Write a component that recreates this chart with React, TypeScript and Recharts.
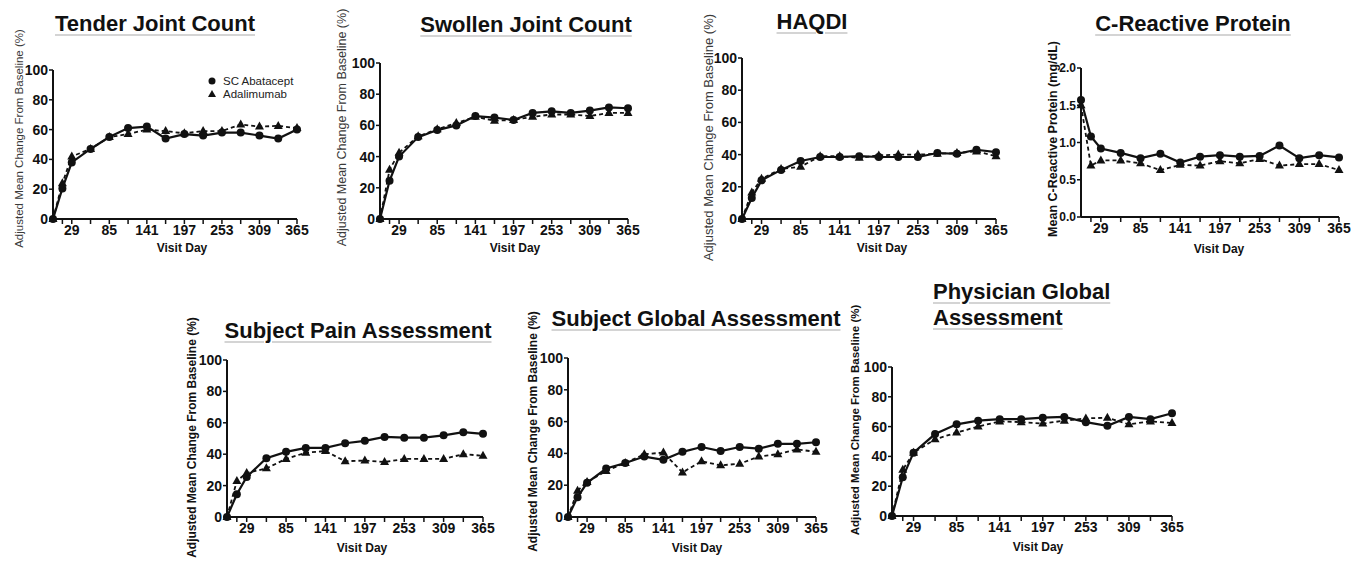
import { LineChart, Line, XAxis, YAxis, Legend } from "recharts";

const FONT = '"Liberation Sans", Arial, sans-serif';
const INK = "#111";

// visit days of the 15 assessments
const DAYS = [1, 15, 29, 57, 85, 113, 141, 169, 197, 225, 253, 281, 309, 337, 365];
const X_TICKS = [15, 29, 57, 85, 113, 141, 169, 197, 225, 253, 281, 309, 337, 365];
const X_LABELED = [29, 85, 141, 197, 253, 309, 365];
const PCT_TICKS = [0, 20, 40, 60, 80, 100];
const CRP_TICKS = [0, 0.5, 1, 1.5, 2];
const SERIES_NAMES = ["SC Abatacept", "Adalimumab"];

const TENDER_SC = [0, 20.5, 38, 47, 55, 61, 62, 54, 57, 56, 58, 58, 56, 54, 60];
const TENDER_ADA = [0, 24, 42, 47, 55, 57, 60, 59, 57.5, 59, 59, 63.5, 62, 62.5, 61];

const SWOLLEN_SC = [0, 24.5, 40, 52.5, 57, 60, 66, 65, 63.5, 68, 69, 68, 69.5, 71.5, 71];
const SWOLLEN_ADA = [0, 31.5, 42.5, 53, 57.5, 61.5, 65.5, 63, 63.5, 65.5, 67, 67, 66, 68, 68];

const HAQ_SC = [0, 13, 24, 30.5, 36, 38.5, 38.5, 39, 38.5, 38.5, 38.5, 41, 40.5, 43, 41.5];
const HAQ_ADA = [0, 16.5, 25, 31, 32.5, 39, 39, 38, 39.5, 40, 40, 40.5, 41, 42, 39];

const CRP_SC = [1.57, 1.08, 0.92, 0.86, 0.79, 0.85, 0.73, 0.81, 0.83, 0.81, 0.82, 0.96, 0.79, 0.83, 0.8];
const CRP_ADA = [1.5, 0.69, 0.76, 0.76, 0.72, 0.63, 0.7, 0.69, 0.75, 0.72, 0.78, 0.69, 0.71, 0.71, 0.63];

const PAIN_SC = [0, 14.5, 25.5, 37.5, 41.5, 44, 44, 47, 48.5, 51, 50.5, 50.5, 52, 54, 53];
const PAIN_ADA = [0, 23, 28, 31, 37, 41, 42, 35.5, 36, 35, 37, 37, 37, 40, 39];

const SGA_SC = [0, 12.5, 21.5, 30.5, 34, 38, 36, 41, 44, 41.5, 44, 43, 46, 46, 47];
const SGA_ADA = [0, 16.5, 22, 29, 34, 39.5, 40.5, 28, 35, 32.5, 33.5, 38, 39.5, 42.5, 41];

const PGA_SC = [0, 26, 42.5, 55, 61.5, 64, 65, 65, 66, 66.5, 63, 60.5, 66.5, 65, 69];
const PGA_ADA = [0, 31, 42.5, 51.5, 56, 60, 63.5, 63, 62, 64, 65.5, 66, 61.5, 63.5, 62.5];

const PCT_LABEL = "Adjusted Mean Change From Baseline (%)";

type Layout = {
  plotLeft: number;
  plotRight: number;
  plotTop: number;
  plotBottom: number;
  labelX: number;
  labelY: number;
  labelSize: number;
  labelWeight: string;
  visitX: number;
  visitY: number;
  titleX: number;
  titleY: number;
  titleAlign: "center" | "left";
  yTickSize?: number;
};

const renderTriangle = (props: any) => {
  const { cx, cy, index } = props;
  if (cx == null || cy == null) return <g key={`t-${index}`} />;
  return (
    <path
      key={`t-${index}`}
      d={`M${cx},${cy - 5} L${cx + 4.5},${cy + 3} L${cx - 4.5},${cy + 3} Z`}
      fill={INK}
    />
  );
};

const renderLegend = (props: any) => {
  const payload = props.payload ?? [];
  const items = SERIES_NAMES.map((n) => payload.find((p: any) => p.value === n)).filter(Boolean);
  return (
    <div style={{ fontFamily: FONT, fontSize: 11.5, color: "#222" }}>
      {items.map((it: any) => (
        <div key={it.value} style={{ display: "flex", alignItems: "center", height: 13 }}>
          <svg width={10} height={10}>
            {it.type === "circle" ? (
              <circle cx={5} cy={5} r={3.5} fill={INK} />
            ) : (
              <path d="M5,1 L9,8 L1,8 Z" fill={INK} />
            )}
          </svg>
          <span style={{ marginLeft: 6 }}>{it.value}</span>
        </div>
      ))}
    </div>
  );
};

// room above the plot so the rotated axis title is not clipped
const TOP_ROOM = 72;

function Panel({
  title,
  sc,
  ada,
  yMax,
  yTicks,
  yLabel,
  fmt,
  lay,
  legend,
}: {
  title: string[];
  sc: number[];
  ada: number[];
  yMax: number;
  yTicks: number[];
  yLabel: string;
  fmt: (v: number) => string;
  lay: Layout;
  legend?: boolean;
}) {
  const left = lay.labelX - 12;
  const top = lay.plotTop - TOP_ROOM;
  const width = lay.plotRight + 14 - left;
  const height = lay.plotBottom + 52 - top;
  const data = DAYS.map((d, i) => ({ day: d, sc: sc[i], ada: ada[i] }));

  const titleStyle: React.CSSProperties = {
    position: "absolute",
    top: lay.titleY - 13,
    fontFamily: FONT,
    fontWeight: "bold",
    fontSize: 22,
    lineHeight: "26px",
    color: INK,
    whiteSpace: "nowrap",
    textDecoration: "underline",
    textDecorationColor: "#d4d4d4",
    textUnderlineOffset: 3,
    ...(lay.titleAlign === "center"
      ? { left: lay.titleX - 200, width: 400, textAlign: "center" }
      : { left: lay.titleX }),
  };

  return (
    <>
      <div style={titleStyle}>
        {title.map((t) => (
          <div key={t}>{t}</div>
        ))}
      </div>
      <div style={{ position: "absolute", left, top }}>
        <LineChart
          width={width}
          height={height}
          data={data}
          margin={{ top: TOP_ROOM, right: 14, left: 0, bottom: 0 }}
        >
          <XAxis
            type="number"
            dataKey="day"
            domain={[1, 365]}
            ticks={X_TICKS}
            interval={0}
            tickFormatter={(v) => (X_LABELED.includes(v) ? String(v) : "")}
            height={52}
            axisLine={{ stroke: INK, strokeWidth: 2 }}
            tickLine={{ stroke: INK, strokeWidth: 1.5 }}
            tickSize={5}
            tickMargin={1}
            tick={{ fontSize: 14, fontWeight: "bold", fill: INK, fontFamily: FONT }}
            label={() => (
              <text
                x={lay.visitX - left}
                y={lay.visitY - top}
                textAnchor="middle"
                dominantBaseline="central"
                fontFamily={FONT}
                fontSize={12}
                fontWeight="bold"
                fill={INK}
              >
                Visit Day
              </text>
            )}
          />
          <YAxis
            type="number"
            domain={[0, yMax]}
            ticks={yTicks}
            interval={0}
            tickFormatter={fmt}
            width={lay.plotLeft - left}
            axisLine={{ stroke: INK, strokeWidth: 2 }}
            tickLine={{ stroke: INK, strokeWidth: 1.5 }}
            tickSize={4}
            tickMargin={1}
            tick={{ fontSize: lay.yTickSize ?? 14, fontWeight: "bold", fill: INK, fontFamily: FONT }}
            label={() => {
              const x = lay.labelX - left;
              const y = lay.labelY - top;
              return (
                <text
                  x={x}
                  y={y}
                  transform={`rotate(-90 ${x} ${y})`}
                  textAnchor="middle"
                  dominantBaseline="central"
                  fontFamily={FONT}
                  fontSize={lay.labelSize}
                  fontWeight={lay.labelWeight}
                  fill={lay.labelWeight === "bold" ? INK : "#3a3a3a"}
                >
                  {yLabel}
                </text>
              );
            }}
          />
          {legend && (
            <Legend
              layout="vertical"
              align="center"
              verticalAlign="middle"
              wrapperStyle={{ left: 207 - left, top: 74.5 - top, width: 100 }}
              content={renderLegend}
            />
          )}
          <Line
            dataKey="ada"
            name="Adalimumab"
            stroke={INK}
            strokeWidth={1.8}
            strokeDasharray="4 3"
            dot={renderTriangle}
            legendType="triangle"
            isAnimationActive={false}
          />
          <Line
            dataKey="sc"
            name="SC Abatacept"
            stroke={INK}
            strokeWidth={2.2}
            dot={{ r: 4, fill: INK, stroke: INK, strokeWidth: 0 }}
            legendType="circle"
            isAnimationActive={false}
          />
        </LineChart>
      </div>
    </>
  );
}

const pct = (v: number) => String(v);
const crp = (v: number) => v.toFixed(1);

export default function App() {
  return (
    <div
      style={{
        position: "absolute",
        left: 0,
        top: 0,
        width: 1359,
        height: 571,
        background: "#fff",
        overflow: "hidden",
      }}
    >
      <Panel
        title={["Tender Joint Count"]}
        sc={TENDER_SC}
        ada={TENDER_ADA}
        yMax={100}
        yTicks={PCT_TICKS}
        yLabel={PCT_LABEL}
        fmt={pct}
        legend
        lay={{ plotLeft: 53, plotRight: 297, plotTop: 70, plotBottom: 219, labelX: 19, labelY: 138.5, labelSize: 11.5, labelWeight: "normal", visitX: 182, visitY: 248, titleX: 155, titleY: 24, titleAlign: "center" }}
      />
      <Panel
        title={["Swollen Joint Count"]}
        sc={SWOLLEN_SC}
        ada={SWOLLEN_ADA}
        yMax={100}
        yTicks={PCT_TICKS}
        yLabel={PCT_LABEL}
        fmt={pct}
        lay={{ plotLeft: 380, plotRight: 628, plotTop: 63, plotBottom: 219, labelX: 342, labelY: 127.5, labelSize: 12.5, labelWeight: "normal", visitX: 515, visitY: 248, titleX: 526, titleY: 25, titleAlign: "center" }}
      />
      <Panel
        title={["HAQDI"]}
        sc={HAQ_SC}
        ada={HAQ_ADA}
        yMax={100}
        yTicks={PCT_TICKS}
        yLabel={PCT_LABEL}
        fmt={pct}
        lay={{ plotLeft: 742, plotRight: 996, plotTop: 58, plotBottom: 219, labelX: 708, labelY: 137.5, labelSize: 13, labelWeight: "normal", visitX: 882, visitY: 248, titleX: 812, titleY: 22, titleAlign: "center" }}
      />
      <Panel
        title={["C-Reactive Protein"]}
        sc={CRP_SC}
        ada={CRP_ADA}
        yMax={2}
        yTicks={CRP_TICKS}
        yLabel="Mean C-Reactive Protein (mg/dL)"
        fmt={crp}
        lay={{ plotLeft: 1081, plotRight: 1339, plotTop: 68, plotBottom: 217, labelX: 1053, labelY: 139, labelSize: 12.5, labelWeight: "bold", visitX: 1219, visitY: 249, titleX: 1193, titleY: 24, titleAlign: "center", yTickSize: 12 }}
      />
      <Panel
        title={["Subject Pain Assessment"]}
        sc={PAIN_SC}
        ada={PAIN_ADA}
        yMax={100}
        yTicks={PCT_TICKS}
        yLabel={PCT_LABEL}
        fmt={pct}
        lay={{ plotLeft: 227, plotRight: 483, plotTop: 360, plotBottom: 517, labelX: 192, labelY: 437.5, labelSize: 12, labelWeight: "bold", visitX: 362, visitY: 548, titleX: 358, titleY: 331, titleAlign: "center" }}
      />
      <Panel
        title={["Subject Global Assessment"]}
        sc={SGA_SC}
        ada={SGA_ADA}
        yMax={100}
        yTicks={PCT_TICKS}
        yLabel={PCT_LABEL}
        fmt={pct}
        lay={{ plotLeft: 568, plotRight: 816, plotTop: 358, plotBottom: 517, labelX: 533, labelY: 431.5, labelSize: 12, labelWeight: "bold", visitX: 697, visitY: 548, titleX: 696, titleY: 319, titleAlign: "center" }}
      />
      <Panel
        title={["Physician Global", "Assessment"]}
        sc={PGA_SC}
        ada={PGA_ADA}
        yMax={100}
        yTicks={PCT_TICKS}
        yLabel={PCT_LABEL}
        fmt={pct}
        lay={{ plotLeft: 892, plotRight: 1172, plotTop: 367, plotBottom: 516, labelX: 855, labelY: 420, labelSize: 11.5, labelWeight: "bold", visitX: 1038, visitY: 547, titleX: 933, titleY: 292, titleAlign: "left" }}
      />
    </div>
  );
}
